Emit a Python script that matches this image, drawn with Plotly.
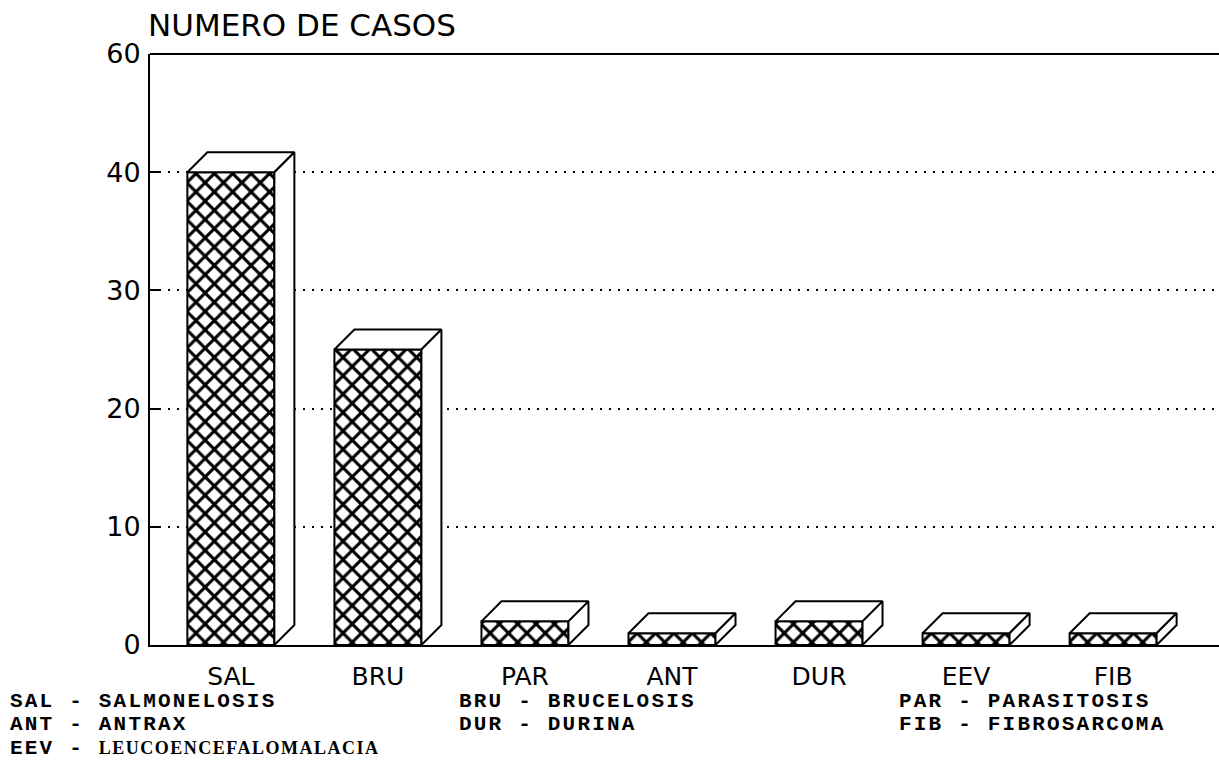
import plotly.graph_objects as go

categories = ["SAL", "BRU", "PAR", "ANT", "DUR", "EEV", "FIB"]
values = [40, 25, 2, 1, 2, 1, 1]
ytick_vals = [0, 10, 20, 30, 40, 50]
ytick_text = ["0", "10", "20", "30", "40", "60"]
legend_cols = [
    ["SAL - SALMONELOSIS", "ANT - ANTRAX"],
    ["BRU - BRUCELOSIS", "DUR - DURINA"],
    ["PAR - PARASITOSIS", "FIB - FIBROSARCOMA"],
]
legend_eev = ("EEV - ", "LEUCOENCEFALOMALACIA")

W, H = 1219, 767
ML, MR, MT, MB = 150, 0, 54, 122
XR = [-0.55, 6.72]
YR = [0, 50]
px_x = (W - ML - MR) / (XR[1] - XR[0])
px_y = (H - MT - MB) / (YR[1] - YR[0])
bw = 87 / px_x
dx = 20 / px_x
dy = 20 / px_y

xs = list(range(len(categories)))
fig = go.Figure()
fig.add_trace(go.Bar(
    x=xs, y=values, width=bw,
    marker=dict(color="white", line=dict(color="black", width=2),
                pattern=dict(shape="x", size=13, solidity=0.42, fgopacity=1,
                             fgcolor="black", bgcolor="white", fillmode="replace")),
    hoverinfo="skip", showlegend=False))

for x, v in zip(xs, values):
    l, r = x - bw / 2, x + bw / 2
    fig.add_trace(go.Scatter(
        x=[l, l + dx, r + dx, r, l], y=[v, v + dy, v + dy, v, v],
        fill="toself", fillcolor="white", mode="lines",
        line=dict(color="black", width=2), hoverinfo="skip", showlegend=False))
    fig.add_trace(go.Scatter(
        x=[r, r + dx, r + dx, r, r], y=[v, v + dy, dy, 0, v],
        fill="toself", fillcolor="white", mode="lines",
        line=dict(color="black", width=2), hoverinfo="skip", showlegend=False))

sans = "DejaVu Sans, Verdana, sans-serif"
fig.update_layout(
    width=W, height=H,
    margin=dict(l=ML, r=MR, t=MT, b=MB),
    paper_bgcolor="white", plot_bgcolor="white",
    font=dict(family=sans, color="black"),
    xaxis=dict(range=XR, tickvals=xs, ticktext=categories, showgrid=False,
               zeroline=False, showline=True, linecolor="black", linewidth=2,
               ticks="", tickfont=dict(size=25, family=sans), ticklabelstandoff=8),
    yaxis=dict(range=YR, tickvals=ytick_vals, ticktext=ytick_text,
               showgrid=True, gridcolor="black", griddash="2px,7px", gridwidth=1.5,
               zeroline=False, showline=True, linecolor="black", linewidth=2,
               ticks="inside", ticklen=11, tickwidth=2, tickcolor="black",
               tickfont=dict(size=27, family=sans), ticklabelstandoff=2),
    shapes=[dict(type="line", xref="paper", yref="paper", x0=0, x1=1, y0=1, y1=1,
                 line=dict(color="black", width=2))],
)

fig.add_annotation(text="NUMERO DE CASOS", xref="paper", yref="paper",
                   x=0, y=1, xanchor="left", yanchor="bottom", yshift=9, xshift=-4,
                   showarrow=False, font=dict(size=31, family=sans))

col_x = [8, 457, 897]
top_y = 688
mono = "Liberation Mono, DejaVu Sans Mono, monospace"
sp = "font-size:21px;letter-spacing:2.2px"


def line(t):
    return "<span style='" + sp + "'><b>" + t + "</b></span>"


for ci, col in enumerate(legend_cols):
    lines = [line(t) for t in col]
    if ci == 0:
        lines.append(line(legend_eev[0]) +
                     "<span style='font-family:Liberation Serif;font-size:18px;letter-spacing:1.5px'><b>"
                     + legend_eev[1] + "</b></span>")
    fig.add_annotation(text="<br>".join(lines), xref="paper", yref="paper",
                       x=(col_x[ci] - ML) / (W - ML - MR),
                       y=(H - MB - top_y) / (H - MT - MB),
                       xanchor="left", yanchor="top", align="left", showarrow=False,
                       font=dict(size=18, family=mono))

fig.write_html("out.html", config={"displayModeBar": False},
               post_script="document.body.style.margin='0';document.body.style.overflow='hidden';")
